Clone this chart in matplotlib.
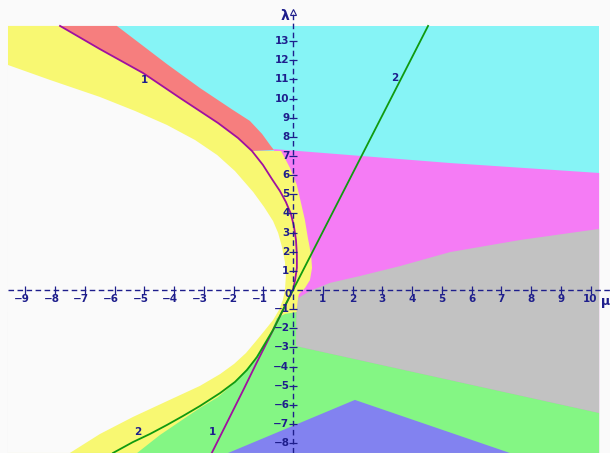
import matplotlib
matplotlib.use("Agg")
import matplotlib.pyplot as plt
from matplotlib.patches import Polygon
import numpy as np

# ---- plotting window (mu horizontal, lambda vertical) ----
MU_MIN, MU_MAX = -9.58, 10.29
LAM_MIN, LAM_MAX = -8.51, 13.79

# ---- curve 1 ----
curve1_upper = [(-7.83, 13.79), (-6.49, 12.58), (-5.04, 11.33), (-3.80, 10.03),
                (-2.52, 8.72), (-1.85, 7.94), (-1.38, 7.26), (-1.01, 6.53),
                (-0.71, 5.80), (-0.44, 5.17), (-0.24, 4.60), (-0.07, 3.97),
                (0.03, 3.34), (0.10, 2.61), (0.13, 1.83), (0.13, 1.15),
                (0.07, 0.52), (0.0, 0.0)]
curve1_lower = [(0.0, 0.0), (-0.37, -1.15), (-0.72, -2.25), (-1.21, -3.76),
                (-1.67, -5.22), (-2.23, -6.96), (-2.73, -8.51)]

# ---- curve 2 ----
curve2_upper = [(0.0, 0.0), (4.54, 13.79)]
curve2_lower = [(0.0, 0.0), (-0.24, -0.73), (-0.47, -1.46), (-0.67, -2.09),
                (-0.91, -2.72), (-1.21, -3.50), (-1.55, -4.18), (-1.95, -4.80),
                (-2.45, -5.38), (-3.13, -6.06), (-3.70, -6.58), (-4.24, -7.05),
                (-4.81, -7.52), (-5.38, -7.94), (-6.05, -8.51)]

# ---- region boundaries ----
white_edge = [(-9.58, 11.75), (-8.17, 10.97), (-6.49, 10.08), (-5.31, 9.35),
              (-4.24, 8.62), (-3.29, 7.83), (-2.55, 7.05), (-1.95, 6.21),
              (-1.34, 5.12), (-0.97, 4.33), (-0.67, 3.60), (-0.50, 2.98),
              (-0.37, 2.25), (-0.27, 1.46), (-0.24, 0.73), (-0.27, 0.0),
              (-0.34, -0.52), (-0.47, -1.04), (-0.67, -1.57), (-0.94, -2.09),
              (-1.24, -2.66), (-1.58, -3.29), (-1.98, -3.86), (-2.45, -4.39),
              (-3.13, -5.01), (-4.30, -5.85), (-5.38, -6.63), (-6.49, -7.52),
              (-7.50, -8.51)]
red_edge = [(-5.92, 13.79), (-4.24, 11.80), (-3.13, 10.55), (-2.02, 9.40),
            (-1.45, 8.83), (-1.04, 8.15), (-0.77, 7.57), (-0.64, 7.31)]
cyan_magenta = [(-0.64, 7.36), (5.28, 6.63), (10.29, 6.11)]
magenta_left = [(-0.40, 7.26), (-0.10, 6.37), (0.13, 5.48), (0.27, 4.54),
                (0.40, 3.66), (0.50, 2.72), (0.61, 1.83), (0.64, 1.15),
                (0.57, 0.52), (0.40, 0.10), (0.20, -0.21)]
gray_top = [(0.17, -0.42), (0.57, -0.05), (1.24, 0.37), (2.25, 0.73),
            (3.60, 1.25), (5.28, 1.98), (7.63, 2.61), (10.29, 3.19)]
gray_left = [(0.17, -0.42), (0.12, -1.15), (0.10, -2.92)]
gray_bottom = [(0.10, -2.92), (0.40, -3.03), (10.29, -6.42)]
yellow_green = [(0.12, -1.15), (-0.27, -1.25), (-0.54, -1.46), (-0.71, -2.09),
                (-1.01, -2.87), (-1.31, -3.66), (-1.65, -4.28), (-2.05, -4.96),
                (-2.52, -5.59), (-3.13, -6.16), (-3.73, -6.79), (-4.47, -7.57),
                (-5.24, -8.51)]
blue_edge = [(-2.18, -8.51), (2.08, -5.74), (7.29, -8.51)]

# ---- colours ----
BG = "#fafafa"
CYAN = "#86f4f6"
RED = "#f67e7e"
MAGENTA = "#f57cf5"
YELLOW = "#f8f872"
GRAY = "#c2c2c2"
GREEN = "#84f684"
BLUE = "#8282f0"
INK = "#1e1e8c"

# ---- axis ticks ----
x_ticks = [-9, -8, -7, -6, -5, -4, -3, -2, -1, 1, 2, 3, 4, 5, 6, 7, 8, 9, 10]
y_ticks = [13, 12, 11, 10, 9, 8, 7, 6, 5, 4, 3, 2, 1,
           -1, -2, -3, -4, -5, -6, -7, -8]

# pixel mapping: 29.75 px per mu unit, 19.15 px per lambda unit
W, H = 610, 453
X0, Y0, SX, SY = 293.0, 290.0, 29.75, 19.15

fig = plt.figure(figsize=(W / 100, H / 100), dpi=100, facecolor=BG)
ax = fig.add_axes([0, 0, 1, 1])
ax.set_xlim(-X0 / SX, (W - X0) / SX)
ax.set_ylim((Y0 - H) / SY, Y0 / SY)
ax.set_facecolor(BG)
ax.axis("off")


def poly(pts, color, z):
    ax.add_patch(Polygon(pts, closed=True, facecolor=color,
                         edgecolor="none", zorder=z))


# cyan fills the whole window, the rest is layered on top
poly([(MU_MIN, LAM_MIN), (MU_MAX, LAM_MIN), (MU_MAX, LAM_MAX),
      (MU_MIN, LAM_MAX)], CYAN, 1)
poly(cyan_magenta + [(MU_MAX, LAM_MIN), (-0.64, LAM_MIN)], MAGENTA, 2)
poly(gray_top + gray_bottom[::-1] + [gray_left[1]], GRAY, 3)
poly(gray_left[1:] + gray_bottom[1:]
     + [(MU_MAX, LAM_MIN), (MU_MIN, LAM_MIN), (MU_MIN, gray_left[1][1])],
     GREEN, 3)
poly(blue_edge, BLUE, 4)

# yellow band around the white region
cu = curve1_upper
idx = next(i for i, p in enumerate(cu) if p[1] <= 7.3)
yellow = ([(MU_MIN, LAM_MAX)] + cu[:idx + 1] + magenta_left
          + gray_left[:2] + yellow_green[1:] + [(MU_MIN, LAM_MIN)])
poly(yellow, YELLOW, 5)

# red band between curve 1 and its outer edge
poly(cu[:idx + 1] + red_edge[::-1], RED, 5)

# white interior
poly(white_edge + [(MU_MIN, LAM_MIN)], BG, 6)

# curves
c1 = np.array(curve1_upper + curve1_lower[1:])
ax.plot(c1[:, 0], c1[:, 1], color="#a010a0", lw=1.3, zorder=8)
c2 = np.array(curve2_lower[::-1] + curve2_upper[1:])
ax.plot(c2[:, 0], c2[:, 1], color="#109a10", lw=1.3, zorder=8)

# axes
ax.plot([MU_MIN, (W - X0) / SX], [0, 0], color=INK, lw=1.0,
        dashes=[4, 2.5], zorder=9)
ax.plot([0, 0], [(Y0 - H) / SY, (Y0 - 12) / SY], color=INK, lw=1.0,
        dashes=[4, 2.5], zorder=9)
ax.plot([0], [(Y0 - 12) / SY], marker="^", ms=4, mfc="none", mec=INK,
        mew=0.8, zorder=9)

ax.plot(x_ticks, [0] * len(x_ticks), ls="none", marker="|", ms=6,
        mew=0.9, color=INK, zorder=9)
ax.plot([0] * len(y_ticks), y_ticks, ls="none", marker="_", ms=6,
        mew=0.9, color=INK, zorder=9)

tk = dict(color=INK, fontsize=7.5, fontweight="bold", zorder=10,
          family="DejaVu Sans")
for t in x_ticks:
    lab = str(t).replace("-", "\u2212")
    if t < 0:
        ax.text(t + 0.15, -0.45, lab, ha="right", va="center", **tk)
    else:
        ax.text(t, -0.45, lab, ha="center", va="center", **tk)
for t in y_ticks:
    lab = str(t).replace("-", "\u2212")
    ax.text(-0.12, t, lab, ha="right", va="center", **tk)
ax.text(-0.15, -0.2, "0", ha="center", va="center", **tk)

ax.text(-0.27, (Y0 - 16) / SY, "\u03bb", ha="center", va="center",
        color=INK, fontsize=10, fontweight="bold", zorder=10)
ax.text((601 - X0) / SX, (Y0 - 302) / SY, "\u03bc", ha="left", va="center",
        color=INK, fontsize=9, fontweight="bold", zorder=10)

# curve numbers
ax.text(-5.01, 10.97, "1", ha="center", va="center", **tk)
ax.text(3.43, 11.07, "2", ha="center", va="center", **tk)
ax.text(-2.72, -7.44, "1", ha="center", va="center", **tk)
ax.text(-5.21, -7.44, "2", ha="center", va="center", **tk)

fig.savefig("out.png", dpi=100, facecolor=BG)
